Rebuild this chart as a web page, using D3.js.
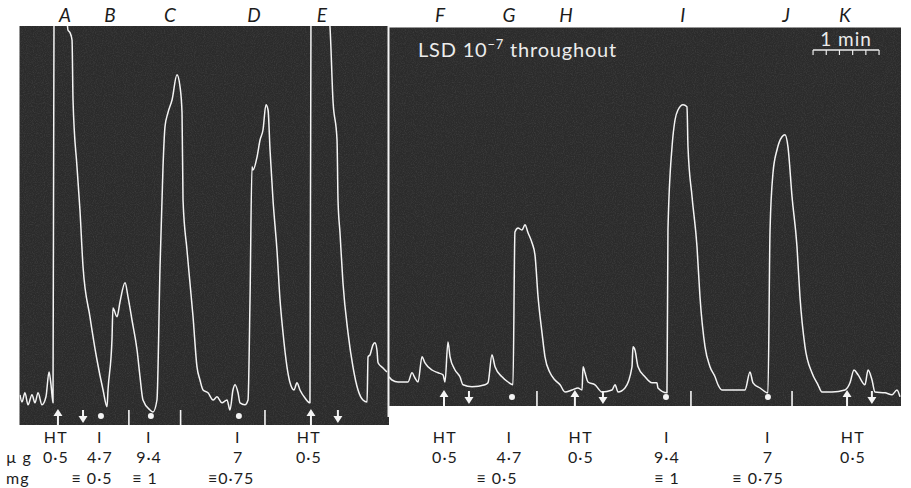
<!DOCTYPE html>
<html>
<head>
<meta charset="utf-8">
<script src="https://cdn.jsdelivr.net/npm/d3@7"></script>
<style>
body { margin: 0; background: #fff; }
text { font-family: Lato, "Open Sans", sans-serif; fill: #1c1c1c; }
</style>
</head>
<body>
<svg id="chart" width="911" height="488"></svg>
<script>
// ---- data: [time (s), pen height (mm)]
const leftTrace = [[0,11.3],[1.8,9.5],[4.5,11.8],[7.3,8.8],[10.9,11.3],[13.6,9.3],[16.4,11.8],[20,8.8],[23.6,10.8],[26.4,17],[28.2,13.8],[30,9.3],
  [30.9,103.5],[31.8,107.5],[41.8,107.5],[43.6,102.5],[45.5,101.8],[47.3,100],[48.2,85],[51.8,68.3],[54.5,57.5],[57.3,43.3],[63.6,30.8],[70,20],[75.5,12.5],[79.1,8.3],
  [80,12.5],[83.6,25],[84.5,33],[88.2,30.8],[90.9,34.5],[95.5,39.3],[98.2,35.8],[101.8,30],[106.4,22.5],[109.1,15.8],[111.8,10],[118.2,7.5],[120.9,7],
  [124.5,10],[127.3,43.3],[130,68.3],[131.8,78.3],[134.5,81.8],[138.2,85],[142.7,91.3],[145.5,88.3],[147.3,81.8],[148.2,60],[151.8,47.5],[154.5,39.3],[157.3,30.8],[160.9,18.3],
  [163.6,15],[166.4,12.5],[170.9,11.8],[175.5,10],[179.1,10.8],[183.6,9.3],[188.2,10],[190.9,7.5],[193.6,12.5],[195.5,13.8],[198.2,11.8],[200,9.3],[204.5,8.8],
  [207.3,10],[209.1,35],[210.9,68.3],[211.8,67.5],[215.5,70.8],[218.2,75],[220.9,77.5],[223.6,83.8],[225.5,82.5],[227.3,72.5],[230,60],[233.6,47.5],[236.4,35],[239.1,26.8],
  [242.7,18.3],[245.5,14.3],[249.1,12.5],[251.8,14.3],[254.5,12.5],[259.1,10.5],[263.6,9.3],
  [264.5,103.5],[265.5,107.5],[280,107.5],[281.8,103.3],[284.5,85],[288.2,75],[289.1,60],[290.9,51.8],[293.6,39.3],[298.2,26.8],[302.7,18.3],[307.3,12.5],[311.8,10],[315.5,9.5],
  [316.4,20.8],[318.2,21.3],[320.9,23.8],[322.7,24.3],[324.5,22.5],[325.5,19.3],[330,18],[333.6,17]];

const rightTrace = [[0,15.8],[2.7,15],[8.2,14.5],[17.3,14.5],[20.9,16.8],[23.6,15.5],[26.4,14.5],[30,20.8],[32.7,19.3],[39.1,17.5],[44.5,16.8],[49.1,16.3],[50.9,14.5],
  [53.6,24.5],[55.5,20.8],[60,17.5],[64.5,15.8],[67.3,13.8],[75.5,13.3],[87.3,13.8],[90,14.3],[93.6,21.3],[96.4,18.3],[102.7,15.8],[108.2,14.5],[112.7,13.8],
  [114.5,52],[117.3,53],[120.9,52.5],[123.6,53.8],[126.4,51.8],[130,49.3],[132.7,46.3],[135.5,35.8],[139.1,26.8],[141.8,20.8],[146.4,16.8],[150.9,15],[155.5,13.8],
  [160,12],[166.4,12.5],[171.8,13],[175.5,12.5],[176.4,18.3],[178.2,16.8],[180.9,14.5],[187.3,13.8],[193.6,12],[202.7,12.5],[205.5,13.8],[208.2,12],[214.5,13],
  [220.9,18.3],[221.8,23.3],[223.6,22.5],[226.4,18.3],[232.7,15.8],[239.1,14.3],[243.6,14.3],[244.5,13],[252.7,11.8],
  [253.6,52.5],[257.3,73.3],[260,80],[262.7,82.5],[267.3,83.8],[270.9,83.3],[271.8,73.3],[275.5,60.8],[280,48.3],[282.7,35.8],[287.3,23.3],[291.8,18.3],[296.4,15.8],
  [299.1,13.8],[302.7,12.5],[323.6,12.5],[328.2,17],[330.9,14.3],[337.3,13],[344.5,11.8],
  [346.4,52.5],[349.1,66.8],[352.7,72.5],[357.3,75.8],[360,76.3],[362.7,73.3],[366.4,60.8],[370.9,48.3],[373.6,35.8],[378.2,23.3],[384.5,16.8],[390,13.8],[393.6,12],
  [402.7,12],[414.5,12.5],[419.1,14.3],[422.7,17.5],[426.4,16.3],[432.7,13.8],[435.5,17.5],[439.1,15],[441.8,12],[450.9,11.8],[457.3,11.3],[461.8,12.5],[464.5,10.8]];

// event marks (s)
const leftUp = [34.5, 264.5];
const leftDown = [57.3, 289];
const leftDots = [73.6, 119, 199];
const leftTicks = [99, 146, 222.7];
const rightUp = [50, 169, 416.4];
const rightDown = [72.7, 194.5, 439];
const rightDots = [111.8, 251.8, 344.5];
const rightTicks = [134.5, 274.5, 366.4];

// labels
const leftLetters = ["A", "B", "C", "D", "E"];
const leftLetterTimes = [41, 81.8, 136.4, 212.7, 274.5];
const rightLetters = ["F", "G", "H", "I", "J", "K"];
const rightLetterTimes = [46.4, 109, 161, 267, 361, 414.5];

const leftDrug = ["HT", "I", "I", "I", "HT"];
const leftDoseUg = ["0·5", "4·7", "9·4", "7", "0·5"];
const leftDoseTimes = [32.7, 72.7, 117.3, 198.2, 262.7];
const leftEquiv = ["≡ 0·5", "≡ 1", "≡0·75"];
const leftEquivTimes = [65.5, 113.6, 192];

const rightDrug = ["HT", "I", "HT", "I", "I", "HT"];
const rightDoseUg = ["0·5", "4·7", "0·5", "9·4", "7", "0·5"];
const rightDoseTimes = [50.9, 109.5, 174.5, 252.7, 344.5, 421.8];
const rightEquiv = ["≡ 0·5", "≡ 1", "≡ 0·75"];
const rightEquivTimes = [98.2, 252.7, 335.5];

const scaleBarStart = 385.5, scaleBarSeconds = 60, scaleBarDivisions = 5;

// ---- scales
const xLeft = d3.scaleLinear().domain([0, 335]).range([20, 388.5]);
const xRight = d3.scaleLinear().domain([0, 465]).range([389, 900.5]);
const yScale = d3.scaleLinear().domain([0, 104]).range([440, 24]);

const svg = d3.select("#chart");
const defs = svg.append("defs");

// paper grain on the dark record
const grain = defs.append("filter").attr("id", "grain")
    .attr("x", 0).attr("y", 0).attr("width", "100%").attr("height", "100%");
grain.append("feTurbulence").attr("type", "fractalNoise")
    .attr("baseFrequency", 0.9).attr("numOctaves", 2).attr("seed", 4);
grain.append("feColorMatrix").attr("type", "matrix")
    .attr("values", "0 0 0 0 1  0 0 0 0 1  0 0 0 0 1  0.5 0 0 0 -0.2");

const panels = [
    {id: "L", x: xLeft, top: 26, bottom: 425, trace: leftTrace, up: leftUp, down: leftDown,
     dots: leftDots, ticks: leftTicks, letters: leftLetters, letterTimes: leftLetterTimes,
     drug: leftDrug, dose: leftDoseUg, doseTimes: leftDoseTimes, equiv: leftEquiv, equivTimes: leftEquivTimes},
    {id: "R", x: xRight, top: 27.5, bottom: 406, trace: rightTrace, up: rightUp, down: rightDown,
     dots: rightDots, ticks: rightTicks, letters: rightLetters, letterTimes: rightLetterTimes,
     drug: rightDrug, dose: rightDoseUg, doseTimes: rightDoseTimes, equiv: rightEquiv, equivTimes: rightEquivTimes}
];

panels.forEach(p => {
    const x0 = p.x.range()[0] - (p.id == "L" ? 0.5 : 0), x1 = p.x.range()[1] + 0.5;
    defs.append("clipPath").attr("id", "clip" + p.id)
        .append("rect").attr("x", x0).attr("y", p.top)
        .attr("width", x1 - x0).attr("height", p.bottom - p.top);

    const g = svg.append("g");
    // background
    g.append("rect").attr("x", x0).attr("y", p.top)
        .attr("width", x1 - x0).attr("height", p.bottom - p.top)
        .style("fill", "#2b2b2b");
    g.append("rect").attr("x", x0).attr("y", p.top)
        .attr("width", x1 - x0).attr("height", p.bottom - p.top)
        .attr("filter", "url(#grain)")
        .style("opacity", 0.35);

    // trace
    const line = d3.line()
        .x(d => p.x(d[0]))
        .y(d => yScale(d[1]))
        .curve(d3.curveMonotoneX);
    g.append("path")
        .attr("d", line(p.trace))
        .attr("clip-path", "url(#clip" + p.id + ")")
        .style("fill", "none")
        .style("stroke", "#f4f4f4")
        .style("stroke-width", 1.5)
        .style("stroke-linejoin", "round");

    // time marks
    g.selectAll(".tick" + p.id).data(p.ticks).enter()
        .append("line")
        .attr("x1", d => p.x(d)).attr("x2", d => p.x(d))
        .attr("y1", p.bottom - 15).attr("y2", p.bottom)
        .style("stroke", "#f4f4f4").style("stroke-width", 1.6);
    g.selectAll(".dot" + p.id).data(p.dots).enter()
        .append("circle")
        .attr("cx", d => p.x(d)).attr("cy", p.bottom - 9)
        .attr("r", 3).style("fill", "#f4f4f4");
    // up arrows (drug in)
    g.selectAll(".up" + p.id).data(p.up).enter()
        .append("path")
        .attr("d", d => {
            const cx = p.x(d), tip = p.bottom - 16;
            return "M" + cx + "," + tip + "L" + (cx - 4.5) + "," + (tip + 7) +
                "L" + (cx - 1) + "," + (tip + 7) + "L" + (cx - 1) + "," + p.bottom +
                "L" + (cx + 1) + "," + p.bottom + "L" + (cx + 1) + "," + (tip + 7) +
                "L" + (cx + 4.5) + "," + (tip + 7) + "Z";
        })
        .style("fill", "#f4f4f4");
    // down arrows (wash)
    g.selectAll(".down" + p.id).data(p.down).enter()
        .append("path")
        .attr("d", d => {
            const cx = p.x(d), tip = p.bottom - 2, top = p.bottom - 15;
            return "M" + cx + "," + tip + "L" + (cx - 4.5) + "," + (tip - 7) +
                "L" + (cx - 1) + "," + (tip - 7) + "L" + (cx - 1) + "," + top +
                "L" + (cx + 1) + "," + top + "L" + (cx + 1) + "," + (tip - 7) +
                "L" + (cx + 4.5) + "," + (tip - 7) + "Z";
        })
        .style("fill", "#f4f4f4");

    // letters on top
    svg.selectAll(".letter" + p.id).data(p.letters).enter()
        .append("text")
        .text(d => d)
        .attr("x", (d, i) => p.x(p.letterTimes[i]))
        .attr("y", 22)
        .attr("text-anchor", "middle")
        .style("font-size", "19px")
        .style("font-style", "italic");

    // doses below: drug, then µg, then mg equivalent
    svg.selectAll(".drug" + p.id).data(p.drug).enter()
        .append("text")
        .text(d => d)
        .attr("x", (d, i) => p.x(p.doseTimes[i]))
        .attr("y", 443)
        .attr("text-anchor", "middle")
        .style("font-size", "16px")
        .style("letter-spacing", "1.5px");
    svg.selectAll(".dose" + p.id).data(p.dose).enter()
        .append("text")
        .text(d => d)
        .attr("x", (d, i) => p.x(p.doseTimes[i]))
        .attr("y", 463)
        .attr("text-anchor", "middle")
        .style("font-size", "16px")
        .style("letter-spacing", "1px");
    svg.selectAll(".equiv" + p.id).data(p.equiv).enter()
        .append("text")
        .text(d => d)
        .attr("x", (d, i) => p.x(p.equivTimes[i]))
        .attr("y", 484)
        .attr("text-anchor", "middle")
        .style("font-size", "16px")
        .style("letter-spacing", "1px");
});

// join between the two records
svg.append("line")
    .attr("x1", 388.5).attr("x2", 388.5)
    .attr("y1", 26).attr("y2", 417)
    .style("stroke", "#f4f4f4").style("stroke-width", 2);

// row titles
svg.append("text").text("µ g").attr("x", 6).attr("y", 463)
    .style("font-size", "16px").style("letter-spacing", "1px");
svg.append("text").text("mg").attr("x", 6).attr("y", 484)
    .style("font-size", "16px").style("letter-spacing", "1px");

// note
const note = svg.append("text")
    .attr("x", 418).attr("y", 57)
    .style("font-size", "20px").style("letter-spacing", "0.8px").style("fill", "#ececec");
note.append("tspan").text("LSD 10");
note.append("tspan").text("−7").attr("dy", -8).style("font-size", "13px").style("fill", "#ececec");
note.append("tspan").text(" throughout").attr("dy", 8).style("fill", "#ececec");

// 1 min scale bar
const sb0 = xRight(scaleBarStart), sb1 = xRight(scaleBarStart + scaleBarSeconds);
svg.append("text").text("1 min")
    .attr("x", (sb0 + sb1) / 2).attr("y", 46)
    .attr("text-anchor", "middle")
    .style("font-size", "19px").style("letter-spacing", "1px").style("fill", "#ececec");
svg.append("line")
    .attr("x1", sb0).attr("x2", sb1).attr("y1", 50).attr("y2", 50)
    .style("stroke", "#ececec").style("stroke-width", 1.3);
svg.selectAll(".sbtick").data(d3.range(scaleBarDivisions + 1)).enter()
    .append("line")
    .attr("x1", d => xRight(scaleBarStart + d * scaleBarSeconds / scaleBarDivisions))
    .attr("x2", d => xRight(scaleBarStart + d * scaleBarSeconds / scaleBarDivisions))
    .attr("y1", 50).attr("y2", 55)
    .style("stroke", "#ececec").style("stroke-width", 1.2);
</script>
</body>
</html>
